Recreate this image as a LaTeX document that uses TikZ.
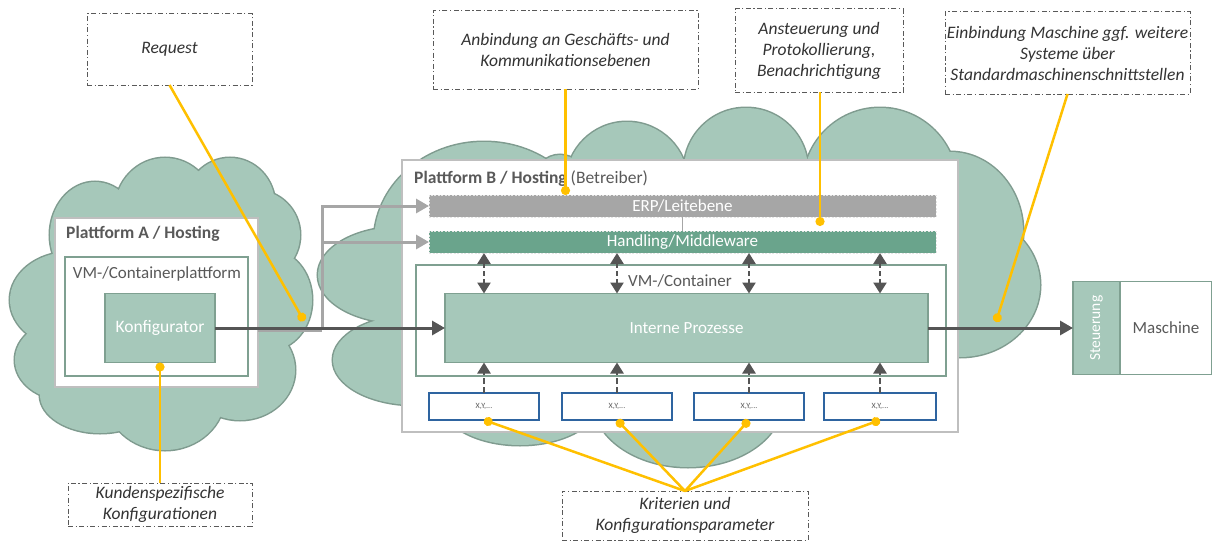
\documentclass[tikz,border=0pt]{standalone}
\usepackage{fontspec}
\setmainfont{Carlito}
\usetikzlibrary{arrows.meta}
\definecolor{cloudfill}{RGB}{166,200,186}
\definecolor{cloudline}{RGB}{127,155,143}
\definecolor{boxline}{RGB}{127,160,145}
\definecolor{handfill}{RGB}{106,164,140}
\definecolor{erpfill}{RGB}{166,166,166}
\definecolor{platline}{RGB}{191,191,191}
\definecolor{txtgray}{RGB}{89,89,89}
\definecolor{arrgray}{RGB}{85,85,85}
\definecolor{lightarr}{RGB}{166,166,166}
\definecolor{xyline}{RGB}{46,100,160}
\definecolor{yel}{RGB}{255,192,0}
\tikzset{
  base/.style={inner sep=0pt, outer sep=0pt, rectangle},
  platbox/.style={base, draw=platline, line width=2pt, fill=white},
  vmbox/.style={base, draw=boxline, line width=1.2pt, fill=white},
  procbox/.style={base, draw=boxline, line width=1.2pt, fill=cloudfill, text=white, font=\fontsize{17}{20}\selectfont},
  layerbox/.style={base, draw=white!80!gray, line width=0.8pt, dash pattern=on 2pt off 1.5pt, text=white, font=\fontsize{17}{20}\selectfont, minimum width=507pt, minimum height=22pt},
  xybox/.style={base, draw=xyline, line width=1.5pt, fill=white, minimum width=110pt, minimum height=27pt, font=\fontsize{8}{9}\selectfont, text=txtgray},
  callout/.style={base, draw=txtgray, line width=1pt, dash pattern=on 5pt off 2.5pt on 1.2pt off 2.5pt, fill=white, align=center, font=\fontsize{17.5}{21}\selectfont\itshape, text=black!80},
  lbl/.style={inner sep=0pt, text=txtgray, font=\fontsize{17}{20}\selectfont},
  darkarrow/.style={draw=arrgray, line width=3pt, -{Triangle[length=13pt,width=14pt]}},
  grayline/.style={draw=lightarr, line width=3pt},
  grayarrow/.style={draw=lightarr, line width=3pt, -{Triangle[length=13pt,width=14pt]}},
  dblarrow/.style={draw=arrgray, line width=2.5pt, {Triangle[length=11pt,width=13pt]}-{Triangle[length=11pt,width=13pt]}, dash pattern=on 5pt off 3pt},
  uparrow/.style={draw=arrgray, line width=2.5pt, -{Triangle[length=11pt,width=13pt]}, dash pattern=on 6pt off 3pt},
  yline/.style={draw=yel, line width=2.5pt, -{Circle[length=9pt]}},
  cloudedge/.style={draw=cloudline, line width=3pt},
}
\begin{document}
\begin{tikzpicture}[x=1pt,y=-1pt]
\useasboundingbox (0,0) rectangle (1212,543);
% ---------- left cloud ----------
\foreach \cx/\cy/\rx/\ry in {70/300/60/48, 65/360/50/40, 100/395/60/38, 165/395/60/55, 240/370/55/50, 270/300/42/50, 255/235/45/45, 230/205/45/47, 165/210/50/52, 95/235/45/53}
  {\path[cloudedge] (\cx,\cy) ellipse [x radius=\rx pt, y radius=\ry pt];}
\foreach \cx/\cy/\rx/\ry in {70/300/60/48, 65/360/50/40, 100/395/60/38, 165/395/60/55, 240/370/55/50, 270/300/42/50, 255/235/45/45, 230/205/45/47, 165/210/50/52, 95/235/45/53, 165/300/120/100}
  {\fill[cloudfill] (\cx,\cy) ellipse [x radius=\rx pt, y radius=\ry pt];}
% ---------- big cloud ----------
\foreach \cx/\cy/\rx/\ry in {400/275/82/48, 415/360/82/45, 484/242/110/100, 560/180/25/25, 627/183/61/61, 746/170/62/62, 880/185/77/77, 950/232/73/80, 960/285/80/72, 520/400/80/45, 688/400/95/67}
  {\path[cloudedge] (\cx,\cy) ellipse [x radius=\rx pt, y radius=\ry pt];}
\foreach \cx/\cy/\rx/\ry in {400/275/82/48, 415/360/82/45, 484/242/110/100, 560/180/25/25, 627/183/61/61, 746/170/62/62, 880/185/77/77, 950/232/73/80, 960/285/80/72, 520/400/80/45, 688/400/95/67}
  {\fill[cloudfill] (\cx,\cy) ellipse [x radius=\rx pt, y radius=\ry pt];}
\fill[cloudfill] (402,175) rectangle (958,432);

% ---------- platform A ----------
\node[platbox, minimum width=203pt, minimum height=169pt] (platA) at (156.5,302.5) {};
\node[lbl, anchor=west, font=\fontsize{17.5}{20}\selectfont\bfseries] (platAt) at (66,234) {Plattform A / Hosting};
\node[vmbox, minimum width=183pt, minimum height=119pt] (vmA) at (156.5,316.5) {};
\node[lbl] (vmAt) at (157,274) {VM-/Containerplattform};
\node[procbox, minimum width=110pt, minimum height=69pt, font=\fontsize{17.5}{20}\selectfont] (konf) at (160,328) {Konfigurator};

% ---------- platform B ----------
\node[platbox, minimum width=556pt, minimum height=272pt] (platB) at (680,296) {};
\node[lbl, anchor=west, font=\fontsize{17.5}{20}\selectfont] (platBt) at (414,179) {\textbf{Plattform B / Hosting} (Betreiber)};
\node[layerbox, fill=erpfill] (erp) at (682.5,206) {ERP/Leitebene};
\node[layerbox, fill=handfill] (hand) at (682.5,242) {Handling/Middleware};
\node[vmbox, minimum width=530pt, minimum height=111pt] (vmB) at (681,320.5) {};
\node[lbl] (vmBt) at (680,281) {VM-/Container};
\node[procbox, minimum width=483pt, minimum height=69pt] (intern) at (686.5,328) {Interne Prozesse};
\node[xybox] (xy1) at (484,406.5) {X,Y,...};
\node[xybox] (xy2) at (617,406.5) {X,Y,...};
\node[xybox] (xy3) at (749,406.5) {X,Y,...};
\node[xybox, minimum width=112pt] (xy4) at (880,406.5) {X,Y,...};

% ---------- machine ----------
\node[base, draw=boxline, line width=1.2pt, fill=cloudfill, minimum width=47pt, minimum height=93pt] (steu) at (1096.5,328) {};
\node[inner sep=0pt, rotate=90, text=white, font=\fontsize{15.5}{18}\selectfont] (steut) at (steu) {Steuerung};
\node[base, draw=boxline, line width=1.2pt, fill=white, minimum width=91pt, minimum height=93pt, text=txtgray, font=\fontsize{17}{20}\selectfont] (masch) at (1166,328) {Maschine};

% ---------- callouts ----------
\node[callout, minimum width=165pt, minimum height=71pt] (request) at (169.5,49.5) {Request};
\node[callout, minimum width=265pt, minimum height=78pt] (anbind) at (565.5,50) {Anbindung an Geschäfts- und\\Kommunikationsebenen};
\node[callout, minimum width=168pt, minimum height=83pt] (anst) at (819,50.5) {Ansteuerung und\\Protokollierung,\\Benachrichtigung};
\node[callout, minimum width=245pt, minimum height=82pt] (einb) at (1067.5,53) {Einbindung Maschine ggf. weitere\\Systeme über\\Standardmaschinenschnittstellen};
\node[callout, minimum width=184pt, minimum height=43pt] (kunden) at (160,504.5) {Kundenspezifische\\Konfigurationen};
\node[callout, minimum width=246pt, minimum height=49pt] (krit) at (685,515.5) {Kriterien und\\Konfigurationsparameter};

% ---------- connectors ----------
\coordinate (g0) at (258,330);
\coordinate (g1) at (322,330);
\draw[grayline] (g0) -- (g1);
\draw[grayarrow] (g1) |- (erp.west);
\draw[grayarrow] (g1 |- hand.west) -- (hand.west);
\draw[darkarrow] (konf.east) -- (intern.west);
\draw[darkarrow] (intern.east) -- (steu.west);
\draw[draw=lightarr, line width=1.5pt] (erp.south) -- (hand.north);
\foreach \n in {xy1,xy2,xy3,xy4}{
  \draw[dblarrow] (hand.south -| \n.north) -- (intern.north -| \n.north);
  \draw[uparrow] (\n.north) -- (intern.south -| \n.north);
}
% yellow pointers
\coordinate (dReq) at (304,321);
\coordinate (dAnst) at (820,226);
\coordinate (dEinb) at (996,322);
\draw[yline] (request.south) -- (dReq);
\draw[yline] (anbind.south) -- (anbind.south |- erp.north);
\draw[yline] (anst.south -| dAnst) -- (dAnst);
\draw[yline] (einb.south) -- (dEinb);
\draw[yline] (kunden.north) -- (konf.south);
\foreach \n in {xy1,xy2,xy3,xy4}{
  \draw[yline] (krit.north) -- (\n.south);
}
\end{tikzpicture}
\end{document}
